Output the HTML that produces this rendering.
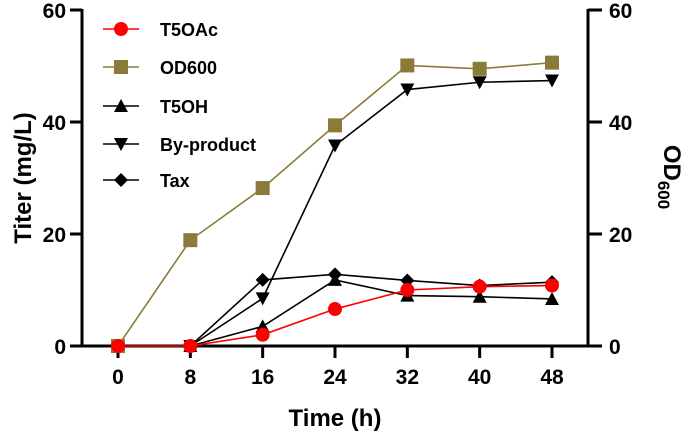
<!DOCTYPE html>
<html><head><meta charset="utf-8"><style>
body{margin:0;background:#fff}
svg{display:block;font-family:"Liberation Sans",Arial,sans-serif;font-weight:bold}
</style></head><body>
<svg id="chart" width="685" height="437" viewBox="0 0 685 437"></svg>
<script>
const categories=[0,8,16,24,32,40,48];
const t5oac=[0,0,2,6.6,10,10.6,10.8];
const od600=[0,18.9,28.2,39.4,50.1,49.5,50.6];
const t5oh=[0,0,3.5,11.8,9,8.8,8.4];
const byproduct=[0,0,8.5,35.8,45.8,47.1,47.4];
const tax=[0,0,11.8,12.8,11.7,10.8,11.4];
const yTicks=[0,20,40,60];
const xTicks=[0,8,16,24,32,40,48];

const NS="http://www.w3.org/2000/svg";
const svg=document.getElementById('chart');
const L=82,R=588,B=346,T=10;
const X0=118,X1=552;
function xs(v){return X0+(v-0)/(48-0)*(X1-X0);}
function ys(v){return B-v/60*(B-T);}
function mk(tag,attrs,parent){const e=document.createElementNS(NS,tag);for(const k in attrs)e.setAttribute(k,attrs[k]);(parent||svg).appendChild(e);return e;}

let e;
e=mk('line',{x1:L,y1:T-1,x2:L,y2:B+1.5,stroke:'#000','stroke-width':3});


e=mk('line',{x1:R,y1:T-1,x2:R,y2:B+1.5,stroke:'#000','stroke-width':3});


e=mk('line',{x1:L-1.5,y1:B,x2:R+14,y2:B,stroke:'#000','stroke-width':3});



yTicks.forEach(v=>{
  const y=ys(v);
  mk('line',{x1:L-12,y1:y,x2:L,y2:y,stroke:'#000','stroke-width':3});
  mk('line',{x1:R,y1:y,x2:R+14,y2:y,stroke:'#000','stroke-width':3});
  e=mk('text',{x:L-16,y:y+8,'text-anchor':'end','font-size':21});
  e.textContent=v;
  
  
  e=mk('text',{x:R+21,y:y+8,'text-anchor':'start','font-size':21});
  e.textContent=v;
  
  
});
xTicks.forEach(v=>{
  const x=xs(v);
  mk('line',{x1:x,y1:B,x2:x,y2:B+12,stroke:'#000','stroke-width':3});
  e=mk('text',{x:x,y:B+38,'text-anchor':'middle','font-size':21});
  e.textContent=v;
  
  
});

e=mk('text',{x:335,y:426,'text-anchor':'middle','font-size':24});
e.textContent='Time (h)';


e=mk('text',{x:0,y:0,'text-anchor':'middle','font-size':24,transform:'translate(31,178) rotate(-90)'});
e.textContent='Titer (mg/L)';


e=mk('text',{x:0,y:0,'text-anchor':'middle','font-size':24,transform:'translate(664,177) rotate(90)'});
e.innerHTML='OD<tspan font-size="17" dy="6">600</tspan>';



function marker(type,x,y,fill,g){
  const s=7;
  if(type==='circle')return mk('circle',{cx:x,cy:y,r:7,fill:fill},g);
  if(type==='square')return mk('rect',{x:x-s,y:y-s,width:2*s,height:2*s,fill:fill},g);
  if(type==='up')return mk('polygon',{points:`${x},${y-7} ${x-7},${y+6} ${x+7},${y+6}`,fill:fill},g);
  if(type==='down')return mk('polygon',{points:`${x},${y+7} ${x-7},${y-6} ${x+7},${y-6}`,fill:fill},g);
  if(type==='diamond')return mk('polygon',{points:`${x},${y-7} ${x+7},${y} ${x},${y+7} ${x-7},${y}`,fill:fill},g);
}
const series=[
  {name:'Tax',data:tax,type:'diamond',color:'#000',line:'#000',key:'tax'},
  {name:'T5OH',data:t5oh,type:'up',color:'#000',line:'#000',key:'t5oh'},
  {name:'By-product',data:byproduct,type:'down',color:'#000',line:'#000',key:'by-product'},
  {name:'OD600',data:od600,type:'square',color:'#8b7b3a',line:'#8b7b3a',key:'od600'},
  {name:'T5OAc',data:t5oac,type:'circle',color:'#ff0000',line:'#ff0000',key:'t5oac'}
];
series.forEach(s=>{
  const g=mk('g',{});
  
  
  const pts=s.data.map((v,i)=>xs(categories[i])+','+ys(v)).join(' ');
  mk('polyline',{points:pts,fill:'none',stroke:s.line,'stroke-width':1.6},g);
  s.data.forEach((v,i)=>{
    const m=marker(s.type,xs(categories[i]),ys(v),s.color,g);
    
    
  });
});

const legendOrder=[series[4],series[3],series[1],series[2],series[0]];
const legendY=[29,67,106,144,180];
legendOrder.forEach((s,i)=>{
  const g=mk('g',{});
  
  
  const y=legendY[i];
  mk('line',{x1:103,y1:y,x2:139,y2:y,stroke:s.line,'stroke-width':1.6},g);
  marker(s.type,121,y,s.color,g);
  const t=mk('text',{x:160,y:y+7,'font-size':18},g);
  t.textContent=s.name;
});
</script>
</body></html>
